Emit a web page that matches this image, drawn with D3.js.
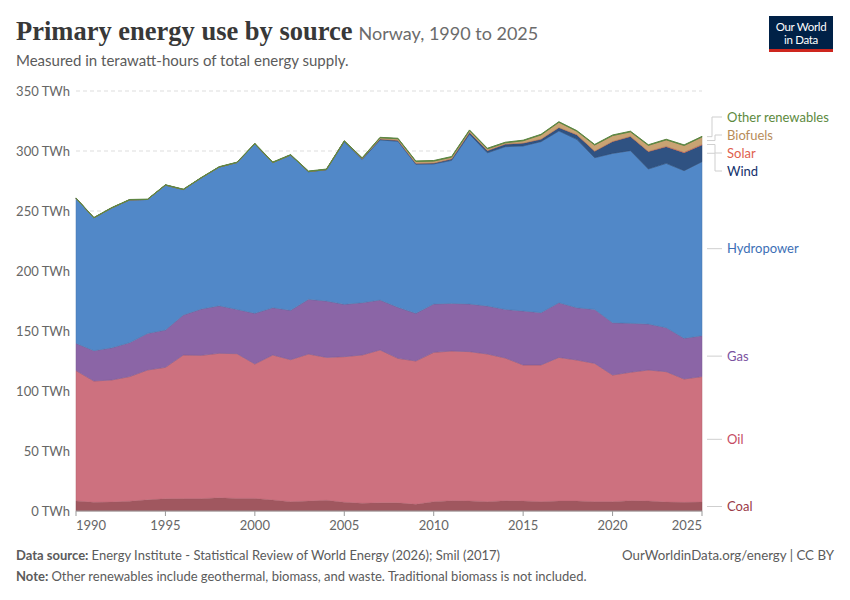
<!DOCTYPE html>
<html>
<head>
<meta charset="utf-8">
<script src="https://cdn.jsdelivr.net/npm/d3@7"></script>
<style>
  body { margin: 0; background: #fff; }
  svg { display: block; font-family: Lato, "Noto Sans", sans-serif; }
</style>
</head>
<body>
<svg id="chart" width="850" height="600"></svg>
<script>
// values in TWh (Norway, 1990-2025)
const years = [1990,1991,1992,1993,1994,1995,1996,1997,1998,1999,
               2000,2001,2002,2003,2004,2005,2006,2007,2008,2009,
               2010,2011,2012,2013,2014,2015,2016,2017,2018,2019,
               2020,2021,2022,2023,2024,2025];
const coal = [8.4,7.3,7.5,8.2,9.3,10.2,10.3,10.3,11.0,10.5,
              10.5,9.2,7.8,8.3,9.0,7.3,6.5,6.8,6.8,5.6,
              7.8,8.6,8.4,7.8,8.6,8.3,7.8,8.3,8.3,7.8,
              7.8,8.6,8.3,7.5,7.2,7.5];
const oil = [108.6,101.0,101.7,103.8,108.2,109.5,119.7,119.4,120.4,120.6,
             112.0,120.8,118.3,122.5,119.0,121.3,123.5,127.4,120.4,119.4,
             124.4,124.7,124.4,123.0,118.9,113.4,113.9,119.7,117.5,115.2,
             105.5,107.0,109.2,108.6,102.8,104.5];
const gas = [22.7,25.3,26.8,28.3,30.5,31.1,33.3,38.6,39.6,36.9,
             42.2,39.4,41.1,45.6,47.0,43.6,43.6,41.6,42.5,39.7,
             40.3,39.7,39.7,40.0,40.5,45.0,43.6,45.6,43.6,45.0,
             43.6,40.8,38.3,36.7,33.9,34.1];
const hydro = [120.9,110.7,116.6,119.0,111.6,120.8,104.6,109.3,115.6,122.4,
               141.3,121.0,129.4,106.3,109.3,135.5,119.4,133.4,138.4,124.2,
               116.7,119.2,141.5,127.7,135.6,137.5,142.5,143.1,140.3,126.4,
               141.1,143.9,129.2,136.9,139.7,145.0];
const wind = [0,0,0,0,0,0,0,0,0,0,
              0,0,0.02,0.2,0.26,0.5,0.67,0.89,0.92,0.98,
              0.87,1.28,1.56,1.89,2.2,2.5,2.1,2.9,3.9,5.5,
              9.9,11.8,14.5,13.9,15.0,14.0];
const solar = [0,0,0,0,0,0,0,0,0,0,
               0,0,0,0,0,0,0,0,0,0,
               0,0,0,0,0.01,0.02,0.03,0.05,0.08,0.1,
               0.15,0.2,0.3,0.4,0.5,0.6];
const biofuels = [0,0,0,0,0,0,0,0,0,0,
                  0,0,0,0,0,0,0.3,0.9,1.2,1.4,
                  1.5,1.4,1.5,1.4,1.0,1.8,3.5,4.3,2.8,5.0,
                  4.8,3.7,4.9,5.3,5.5,6.0];
const otherRen = [0.3,0.3,0.3,0.3,0.3,0.3,0.3,0.3,0.3,0.3,
                  0.4,0.4,0.4,0.4,0.4,0.4,0.4,0.4,0.4,0.4,
                  0.5,0.5,0.5,0.5,0.5,0.5,0.5,0.5,0.5,0.5,
                  0.5,0.5,0.5,0.5,0.5,0.5];
const yTicks = [0,50,100,150,200,250,300,350];
const xTicks = [1990,1995,2000,2005,2010,2015,2020,2025];

const series = [
  { key: "Coal", values: coal, fill: "#a0575f", text: "#9a3a48" },
  { key: "Oil", values: oil, fill: "#cd717f", text: "#c54b62" },
  { key: "Gas", values: gas, fill: "#8b65a6", text: "#7b52a0" },
  { key: "Hydropower", values: hydro, fill: "#5188c8", text: "#3d6fb6" },
  { key: "Wind", values: wind, fill: "#2f5282", text: "#13306b" },
  { key: "Solar", values: solar, fill: "#e66f5c", text: "#e0614d" },
  { key: "Biofuels", values: biofuels, fill: "#c9a373", text: "#b88c59" },
  { key: "Other renewables", values: otherRen, fill: "#6b9b4d", text: "#5d8a3e" }
];

const rows = years.map((yr, i) => {
  const r = { year: yr };
  series.forEach(s => r[s.key] = s.values[i]);
  return r;
});

const margin = { top: 91, right: 148, bottom: 89, left: 76 };
const width = 850, height = 600;

const svg = d3.select("#chart");

const x = d3.scaleLinear()
    .domain([1990, 2025])
    .range([margin.left, width - margin.right]);
const y = d3.scaleLinear()
    .domain([0, 350])
    .range([height - margin.bottom, margin.top]);

const stacked = d3.stack().keys(series.map(s => s.key))(rows);

// header
svg.append("text")
    .attr("x", 16).attr("y", 40)
    .attr("font-family", "'Liberation Serif', serif")
    .attr("font-weight", 700)
    .attr("font-size", 26.5)
    .attr("fill", "#383838")
    .text("Primary energy use by source")
  .append("tspan")
    .attr("font-family", "Lato, sans-serif")
    .attr("font-weight", 400)
    .attr("font-size", 18)
    .attr("fill", "#6b6b6b")
    .attr("dx", 6)
    .text("Norway, 1990 to 2025");

svg.append("text")
    .attr("x", 16).attr("y", 66)
    .attr("font-size", 15)
    .attr("fill", "#5b5b5b")
    .text("Measured in terawatt-hours of total energy supply.");

// logo
const logo = svg.append("g").attr("transform", "translate(769,16)");
logo.append("rect").attr("width", 64).attr("height", 36).attr("fill", "#002147");
logo.append("rect").attr("y", 33).attr("width", 64).attr("height", 3).attr("fill", "#ce261e");
logo.append("text").attr("x", 32).attr("y", 15).attr("text-anchor", "middle")
    .attr("fill", "#fff").attr("font-size", 11.5).attr("letter-spacing", -0.3).text("Our World");
logo.append("text").attr("x", 32).attr("y", 28).attr("text-anchor", "middle")
    .attr("fill", "#fff").attr("font-size", 11.5).attr("letter-spacing", -0.3).text("in Data");

// grid + y labels
const yAxisG = svg.append("g");
yAxisG.selectAll("line")
    .data(yTicks.filter(d => d > 0))
    .join("line")
    .attr("x1", margin.left).attr("x2", width - margin.right)
    .attr("y1", d => y(d)).attr("y2", d => y(d))
    .attr("stroke", "#dddddd")
    .attr("stroke-dasharray", "4,3");
yAxisG.selectAll("text")
    .data(yTicks)
    .join("text")
    .attr("x", margin.left - 6)
    .attr("y", d => y(d))
    .attr("dy", "0.35em")
    .attr("text-anchor", "end")
    .attr("font-size", 13)
    .attr("fill", "#666")
    .text(d => d + " TWh");

// areas
const area = d3.area()
    .x(d => x(d.data.year))
    .y0(d => y(d[0]))
    .y1(d => y(d[1]));

svg.append("g")
  .selectAll("path")
  .data(stacked)
  .join("path")
    .attr("d", area)
    .attr("fill", (d, i) => series[i].fill)
    .attr("stroke", (d, i) => d3.color(series[i].fill).darker(0.4))
    .attr("stroke-width", (d, i) => i === series.length - 1 ? 1 : 0.5);

// x axis
const xAxisG = svg.append("g").attr("transform", `translate(0,${y(0)})`);
xAxisG.append("line")
    .attr("x1", margin.left).attr("x2", width - margin.right)
    .attr("stroke", "#999");
xAxisG.selectAll(".tick")
    .data(xTicks)
    .join("line")
    .attr("x1", d => x(d)).attr("x2", d => x(d))
    .attr("y1", 0).attr("y2", 5)
    .attr("stroke", "#999");
xAxisG.selectAll("text")
    .data(xTicks)
    .join("text")
    .attr("x", d => x(d))
    .attr("y", 19)
    .attr("text-anchor", (d, i) => i === 0 ? "start" : (i === xTicks.length - 1 ? "end" : "middle"))
    .attr("font-size", 13)
    .attr("fill", "#666")
    .text(d => d);

// right-hand labels
const last = stacked.map(s => s[s.length - 1]);
const labelY = {
  "Other renewables": 117, "Biofuels": 135, "Solar": 153, "Wind": 171
};
const lx0 = x(2025) + 5, lx1 = x(2025) + 20;
const legend = svg.append("g");
series.forEach((s, i) => {
  const mid = y((last[i][0] + last[i][1]) / 2);
  const ly = labelY[s.key] !== undefined ? labelY[s.key] : mid;
  const bend = s.key === "Other renewables" ? lx0 + 5 : lx0 + 8;
  legend.append("path")
      .attr("d", labelY[s.key] !== undefined
        ? `M${lx0},${mid}H${bend}V${ly}H${lx1}`
        : `M${lx0},${ly}H${lx1}`)
      .attr("fill", "none")
      .attr("stroke", "#cfcfcf")
      .attr("stroke-width", 1);
  legend.append("text")
      .attr("x", lx1 + 5)
      .attr("y", ly)
      .attr("dy", "0.35em")
      .attr("font-size", 13)
      .attr("fill", s.text)
      .text(s.key);
});

// footer
const foot = svg.append("g").attr("font-size", 13).attr("fill", "#5b5b5b");
const src = foot.append("text").attr("x", 16).attr("y", 560);
src.append("tspan").attr("font-weight", 700).text("Data source: ");
src.append("tspan").text("Energy Institute - Statistical Review of World Energy (2026); Smil (2017)");
foot.append("text").attr("x", 834).attr("y", 560).attr("text-anchor", "end")
    .attr("font-size", 13.3)
    .text("OurWorldinData.org/energy | CC BY");
const note = foot.append("text").attr("x", 16).attr("y", 581);
note.append("tspan").attr("font-weight", 700).text("Note: ");
note.append("tspan").text("Other renewables include geothermal, biomass, and waste. Traditional biomass is not included.");
</script>
</body>
</html>
